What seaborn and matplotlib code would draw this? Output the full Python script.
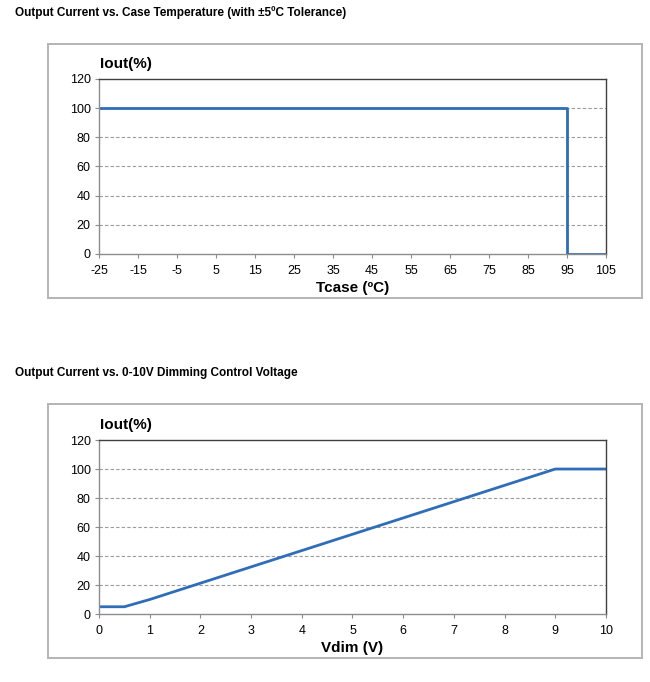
import matplotlib
matplotlib.use("Agg")
import matplotlib.pyplot as plt
import seaborn as sns
import pandas as pd
from matplotlib.patches import Rectangle

# data
tcase = [-25, 95, 95, 105]
iout_t = [100, 100, 0, 0]
vdim = [0, 0.5, 1, 9, 10]
iout_v = [5, 5, 10, 100, 100]

t_ticks = list(range(-25, 106, 10))
v_ticks = list(range(0, 11))
y_ticks = list(range(0, 121, 20))

sns.set_theme(style="white")
plt.rcParams["font.family"] = ["Liberation Sans", "DejaVu Sans"]
plt.rcParams["axes.unicode_minus"] = False
plt.rcParams["text.color"] = "black"
plt.rcParams["xtick.color"] = "black"
plt.rcParams["ytick.color"] = "black"
plt.rcParams["axes.labelcolor"] = "black"

blue = "#2f6db8"
fig = plt.figure(figsize=(6.5, 6.82), dpi=100)

# grey frames around each chart
for bottom in (0.5630, 0.0352):
    fig.patches.append(Rectangle((0.0738, bottom), 0.9139, 0.3725, transform=fig.transFigure,
                                 fill=False, edgecolor="#b4b4b4", linewidth=1.4))


def style_axis(ax, xticks, xlabel):
    ax.set_ylim(0, 120)
    ax.set_xlim(xticks[0], xticks[-1])
    ax.set_xticks(xticks)
    ax.set_yticks(y_ticks)
    for y in y_ticks[1:-1]:
        ax.axhline(y, color="#9a9a9a", linestyle=(0, (3, 2)), linewidth=0.8, zorder=0)
    ax.spines["left"].set_color("#8c8c8c")
    ax.spines["bottom"].set_color("#8c8c8c")
    ax.spines["top"].set_color("#404040")
    ax.spines["right"].set_color("#404040")
    for s in ax.spines.values():
        s.set_linewidth(1.0)
    ax.tick_params(axis="both", direction="out", length=3, width=0.8, color="#8c8c8c",
                   labelsize=9, bottom=True, left=True)
    ax.tick_params(axis="x", pad=5)
    ax.tick_params(axis="y", pad=3)
    ax.set_xlabel(xlabel, fontsize=11, fontweight="bold", labelpad=3)
    ax.set_ylabel("")


df1 = pd.DataFrame({"Tcase": tcase, "Iout": iout_t})
ax1 = fig.add_axes([0.1523, 0.6276, 0.78, 0.2566])
sns.lineplot(data=df1, x="Tcase", y="Iout", ax=ax1, color=blue, linewidth=2,
             estimator=None, sort=False)
style_axis(ax1, t_ticks, "Tcase (ºC)")

df2 = pd.DataFrame({"Vdim": vdim, "Iout": iout_v})
ax2 = fig.add_axes([0.1523, 0.0997, 0.78, 0.2551])
sns.lineplot(data=df2, x="Vdim", y="Iout", ax=ax2, color=blue, linewidth=2,
             estimator=None, sort=False)
style_axis(ax2, v_ticks, "Vdim (V)")

fig.text(0.154, 0.906, "Iout(%)", fontsize=11, fontweight="bold", va="center")
fig.text(0.154, 0.377, "Iout(%)", fontsize=11, fontweight="bold", va="center")

fig.text(0.023, 0.982, "Output Current vs. Case Temperature (with ±5ºC Tolerance)",
         fontsize=8.5, fontweight="bold", va="center")
fig.text(0.023, 0.453, "Output Current vs. 0-10V Dimming Control Voltage",
         fontsize=8.5, fontweight="bold", va="center")

fig.savefig("out.png", dpi=100, facecolor="white")
